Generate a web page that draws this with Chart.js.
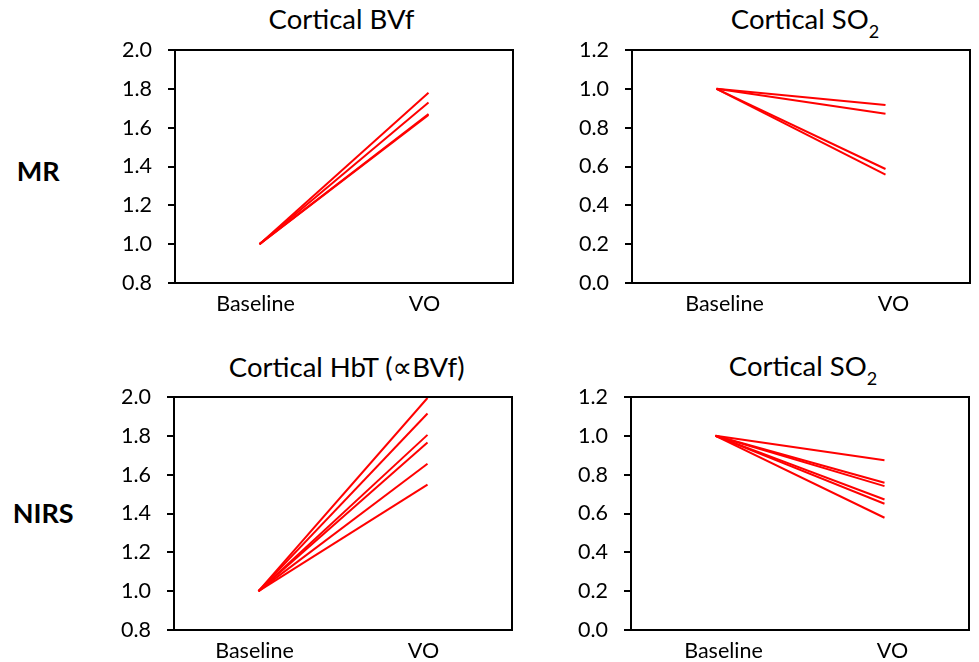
<!DOCTYPE html>
<html><head><meta charset="utf-8">
<script src="https://cdn.jsdelivr.net/npm/chart.js@4.4.0/dist/chart.umd.min.js"></script>
<style>
body{margin:0;background:#fff;width:979px;height:662px;position:relative;overflow:hidden;font-family:Lato,"DejaVu Sans",sans-serif;color:#000;}
canvas{position:absolute;}
.t{position:absolute;font-size:27.5px;white-space:nowrap;transform:translateX(-50%);line-height:1;}
.t .s{font-size:18px;position:relative;top:9px;}
.r{position:absolute;font-weight:bold;font-size:27px;line-height:1;}
</style></head><body>
<div class="t" style="left:341.5px;top:5px;">Cortical BVf</div>
<div class="t" style="left:805px;top:5px;">Cortical SO<span class="s">2</span></div>
<div class="t" style="left:346.7px;top:353px;">Cortical HbT (&#8733;BVf)</div>
<div class="t" style="left:803px;top:352px;">Cortical SO<span class="s">2</span></div>
<div class="r" style="left:16.7px;top:156.7px;">MR</div>
<div class="r" style="left:12.7px;top:499.3px;">NIRS</div>
<canvas id="c1" width="420" height="315" style="left:100px;top:0px;"></canvas>
<canvas id="c2" width="419" height="315" style="left:560px;top:0px;"></canvas>
<canvas id="c3" width="420" height="315" style="left:100px;top:347px;"></canvas>
<canvas id="c4" width="419" height="315" style="left:560px;top:347px;"></canvas>
<script>
// ---- data ----
const categories = ['Baseline', 'VO'];
const baselineValue = 1.0;
const mrBvfVO = [1.78, 1.73, 1.67, 1.665];
const mrSo2VO = [0.917, 0.872, 0.587, 0.558];
const nirsHbtVO = [1.995, 1.915, 1.805, 1.766, 1.656, 1.549];
const nirsSo2VO = [0.874, 0.758, 0.741, 0.672, 0.650, 0.578];
const bvfTicks = [0.8, 1.0, 1.2, 1.4, 1.6, 1.8, 2.0];
const so2Ticks = [0.0, 0.2, 0.4, 0.6, 0.8, 1.0, 1.2];

const framePlugin = {
  id: 'frame',
  afterDraw(chart) {
    const a = chart.chartArea, ctx = chart.ctx;
    ctx.save();
    ctx.strokeStyle = '#000';
    ctx.lineWidth = 2;
    ctx.strokeRect(a.left, a.top, a.right - a.left, a.bottom - a.top);
    ctx.restore();
  }
};

function makeChart(id, voValues, ticks, yAxisWidth, padRight, labelOffset) {
  const datasets = voValues.map(v => ({
    data: [baselineValue, v],
    borderColor: '#ff0000',
    borderWidth: 2,
    pointRadius: 0,
    tension: 0,
    fill: false
  }));
  new Chart(document.getElementById(id), {
    type: 'line',
    data: { labels: categories, datasets },
    plugins: [framePlugin],
    options: {
      responsive: false,
      animation: false,
      devicePixelRatio: 1,
      layout: { padding: { top: 50, right: padRight, left: 0, bottom: 0 } },
      plugins: { legend: { display: false }, tooltip: { enabled: false }, title: { display: false } },
      scales: {
        x: {
          type: 'category',
          offset: true,
          grid: { display: false },
          border: { display: true, color: '#000', width: 2 },
          ticks: { color: '#000', font: { family: 'Lato', size: 21.5 }, padding: 0, labelOffset: labelOffset, maxRotation: 0 },
          afterFit(s) { s.height = 32; }
        },
        y: {
          min: ticks[0],
          max: ticks[ticks.length - 1],
          grid: { drawOnChartArea: false, drawTicks: true, tickLength: 7, color: '#000', lineWidth: 2 },
          border: { display: true, color: '#000', width: 2 },
          ticks: { color: '#000', font: { family: 'Lato', size: 21.5 }, padding: 16, callback: v => Number(v).toFixed(1) },
          afterBuildTicks(s) { s.ticks = ticks.map(v => ({ value: v })); },
          afterFit(s) { s.width = yAxisWidth; }
        }
      }
    }
  });
}

makeChart('c1', mrBvfVO, bvfTicks, 75, 7, -4);
makeChart('c2', mrSo2VO, so2Ticks, 72, 9, 8);
makeChart('c3', nirsHbtVO, bvfTicks, 74, 8, -4);
makeChart('c4', nirsSo2VO, so2Ticks, 71, 10, 8);
</script>
</body></html>
